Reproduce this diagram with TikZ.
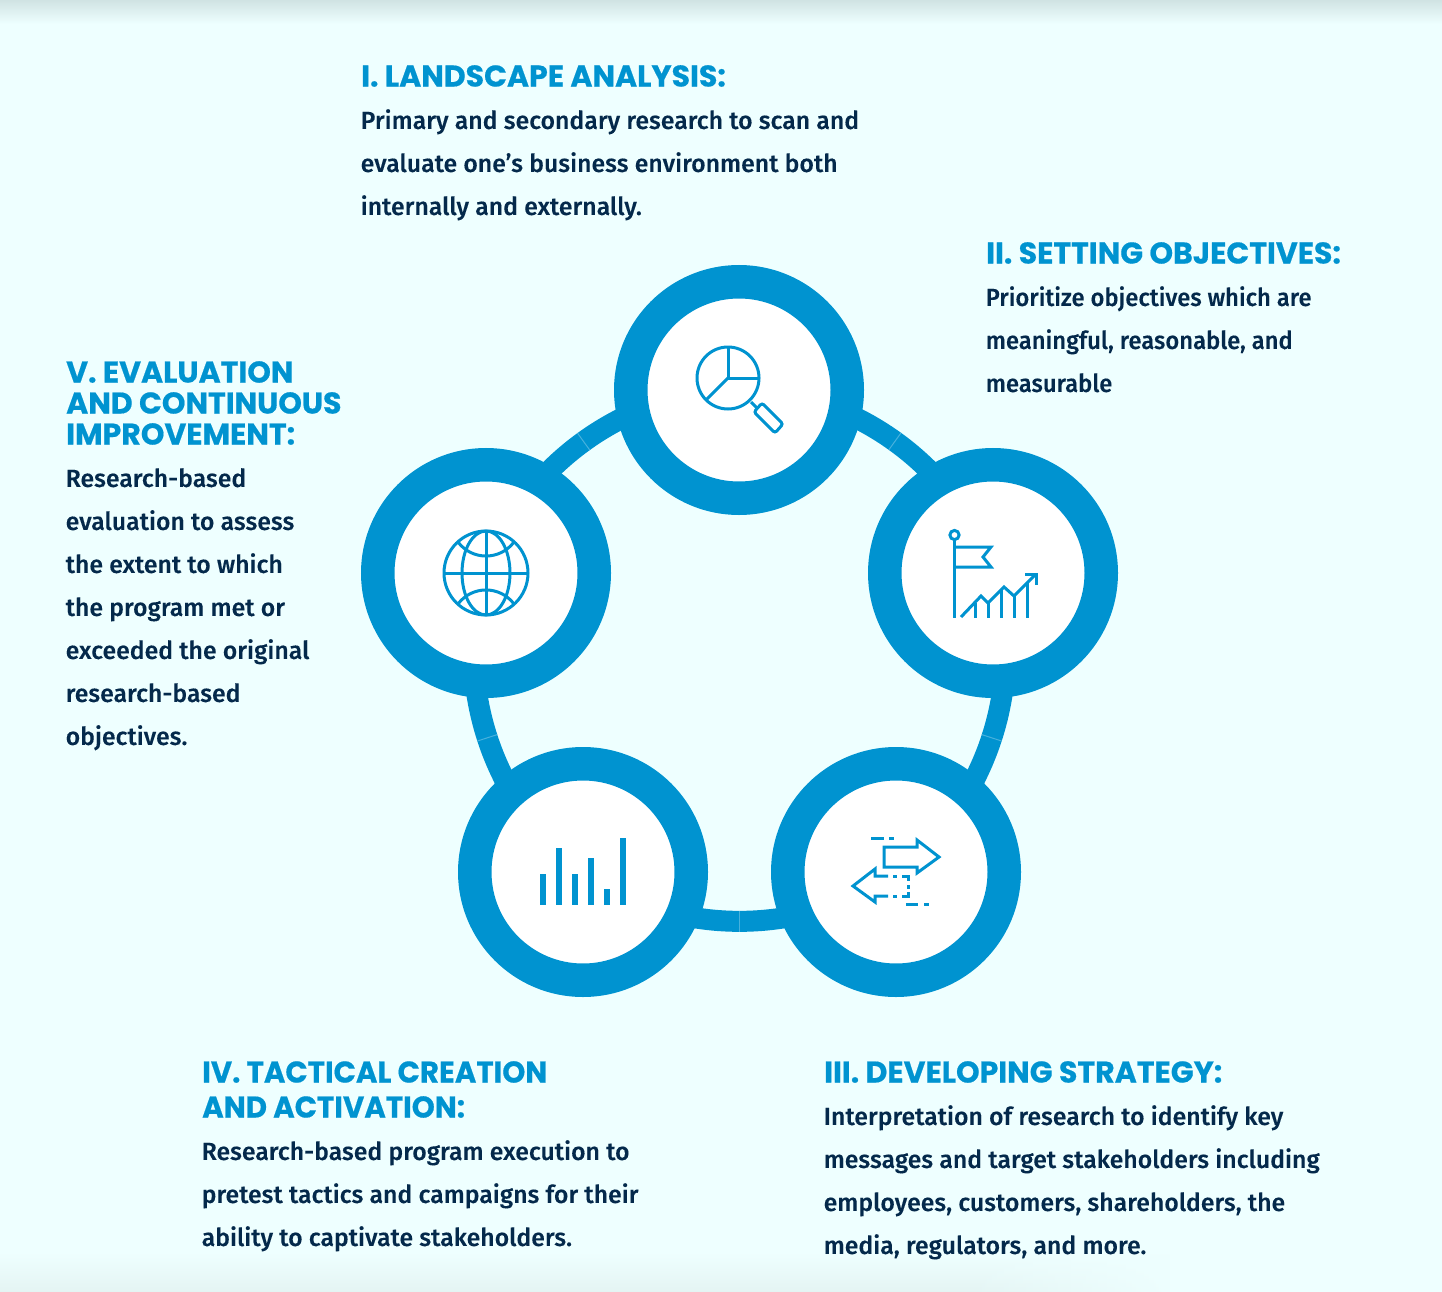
\documentclass[tikz,border=0pt]{standalone}
\usepackage{fontspec}
\setmainfont{Fira Sans}[UprightFont=* Medium,BoldFont=* Bold,FakeBold=0.12]
\newfontfamily\narrowfont{Fira Sans}[UprightFont=* Medium,FakeStretch=0.96,FakeBold=0.12]
\newfontfamily\headfont{Poppins}[UprightFont=* Bold,FakeBold=0.5]
\newfontfamily\headtight{Poppins}[UprightFont=* Bold,FakeBold=0.5,FakeStretch=0.975]
\usetikzlibrary{backgrounds,fadings}
\definecolor{brand}{HTML}{0093D0}
\definecolor{inktext}{HTML}{04294B}
\definecolor{paper}{HTML}{EEFFFF}
\definecolor{topshade}{HTML}{D0E3E3}
\definecolor{lowshade}{HTML}{E4F4F3}
\tikzset{
  x=1pt,y=-1pt,
  ringnode/.style={circle,draw=brand,line width=33.5pt,fill=white,minimum size=216.5pt,inner sep=0pt,outer sep=0pt},
  ringlink/.style={draw=brand,line width=21pt,looseness=0.917},
  seam/.style={sloped,midway,fill=brand!72!white,minimum width=1pt,minimum height=21pt,inner sep=0pt,outer sep=0pt},
  head/.style={anchor=north west,inner sep=0pt,align=left,text=brand,font=\headfont\fontsize{30}{31}\selectfont},
  headwide/.style={head,font=\headtight\fontsize{30}{35}\selectfont},
  body/.style={anchor=north west,inner sep=0pt,align=left,text=inktext,font=\fontsize{24.8}{43}\selectfont},
  ico/.style={draw=brand,line width=3pt,line join=miter},
  bar/.style={fill=brand,draw=none},
}
\begin{document}
\begin{tikzpicture}
\useasboundingbox (0,0) rectangle (1442,1292);

\node[ringnode] (a) at (739,390) {};
\node[ringnode] (b) at (993,573) {};
\node[ringnode] (c) at (896,872) {};
\node[ringnode] (d) at (583,872) {};
\node[ringnode] (e) at (486,573) {};
\begin{scope}[on background layer]
\fill[paper] (0,0) rectangle (1442,1292);
\shade[top color=topshade,bottom color=paper] (0,0) rectangle (1442,24);
\shade[top color=paper,bottom color=lowshade] (0,1252) rectangle (1442,1292);
\fill[paper,path fading=west] (960,1252) rectangle (1180,1292);
\fill[paper] (1170,1252) rectangle (1442,1292);
\draw[ringlink] (a.center) to[bend left=36] node[seam] (s1) {} (b.center);
\draw[ringlink] (b.center) to[bend left=36] node[seam] (s2) {} (c.center);
\draw[ringlink] (c.center) to[bend left=36] node[seam] (s3) {} (d.center);
\draw[ringlink] (d.center) to[bend left=36] node[seam] (s4) {} (e.center);
\draw[ringlink] (e.center) to[bend left=36] node[seam] (s5) {} (a.center);
\end{scope}

% magnifier
\draw[ico] (728,378) circle (31);
\draw[ico] (728,347) -- (728,378) -- (759,378);
\draw[ico] (728,378) -- (706,400);
\draw[ico] (751,402) -- (757,408);
\draw[ico,rounded corners=2.5pt] (762,403) -- (783,424) -- (775,433) -- (754,412) -- cycle;

% flag and chart
\draw[ico] (954.5,540) -- (954.5,618);
\draw[ico] (954.5,535) circle (4.6);
\draw[ico] (954.5,547) -- (991,547) -- (983,557) -- (991,567) -- (954.5,567);
\draw[ico] (961,617) -- (981,596) -- (988,603) -- (1004,587) -- (1014,596) -- (1035,575);
\draw[ico] (1025,574) -- (1036,574) -- (1036,585);
\draw[ico] (975,603) -- (975,618) (988,603) -- (988,618) (1001,589) -- (1001,618) (1014,596) -- (1014,618) (1027,583) -- (1027,618);

% arrows
\draw[ico] (884,867) -- (884,847) -- (917,847) -- (917,840) -- (939,857) -- (917,873) -- (917,867) -- cycle;
\draw[ico] (888,876) -- (875,876) -- (875,869) -- (853,886) -- (875,902) -- (875,896) -- (888,896);
\draw[ico] (893,876) -- (897,876) (902,876) -- (909.5,876) (908,876) -- (908,881) (908,885) -- (908,889) (908,892) -- (908,897.5) (909.5,896) -- (902,896) (897,896) -- (893,896);
\draw[ico] (871,838) -- (884,838) (889,838) -- (894,838);
\draw[ico] (906,904) -- (918,904) (924,904) -- (929,904);

% bars
\fill[bar] (540,874) rectangle (546,905);
\fill[bar] (556,848) rectangle (562,905);
\fill[bar] (572,874) rectangle (578,905);
\fill[bar] (588,858) rectangle (594,905);
\fill[bar] (604,889) rectangle (610,905);
\fill[bar] (620,838) rectangle (626,905);

% globe
\draw[ico] (486,573) circle (42);
\draw[ico] (486,531) -- (486,615) (444,573) -- (528,573);
\draw[ico] (486,573) ellipse (24 and 42);
\draw[ico] (458,542) .. controls (472,560.7) and (500,560.7) .. (514,542);
\draw[ico] (458,604) .. controls (472,585.3) and (500,585.3) .. (514,604);

% texts
\node[head] (t1) at (361,65) {I. LANDSCAPE ANALYSIS:};
\node[body] (b1) at (360.5,109) {Primary and secondary research to scan and\\evaluate one’s business environment both\\internally and externally.};
\node[head] (t2) at (986,242) {II. SETTING OBJECTIVES:};
\node[body,font=\narrowfont\fontsize{24.8}{43}\selectfont] (b2) at (985.5,286) {Prioritize objectives which are\\meaningful, reasonable, and\\measurable};
\node[head] (t3) at (824,1061) {III. DEVELOPING STRATEGY:};
\node[body] (b3) at (823.5,1105) {Interpretation of research to identify key\\messages and target stakeholders including\\employees, customers, shareholders, the\\media, regulators, and more.};
\node[headwide] (t4) at (202,1061) {IV. TACTICAL CREATION\\AND ACTIVATION:};
\node[body] (b4) at (201.5,1140) {Research-based program execution to\\pretest tactics and campaigns for their\\ability to captivate stakeholders.};
\node[head] (t5) at (66,361) {V. EVALUATION\\AND CONTINUOUS\\IMPROVEMENT:};
\node[body] (b5) at (65.5,468) {Research-based\\evaluation to assess\\the extent to which\\the program met or\\exceeded the original\\research-based\\objectives.};
\end{tikzpicture}
\end{document}
